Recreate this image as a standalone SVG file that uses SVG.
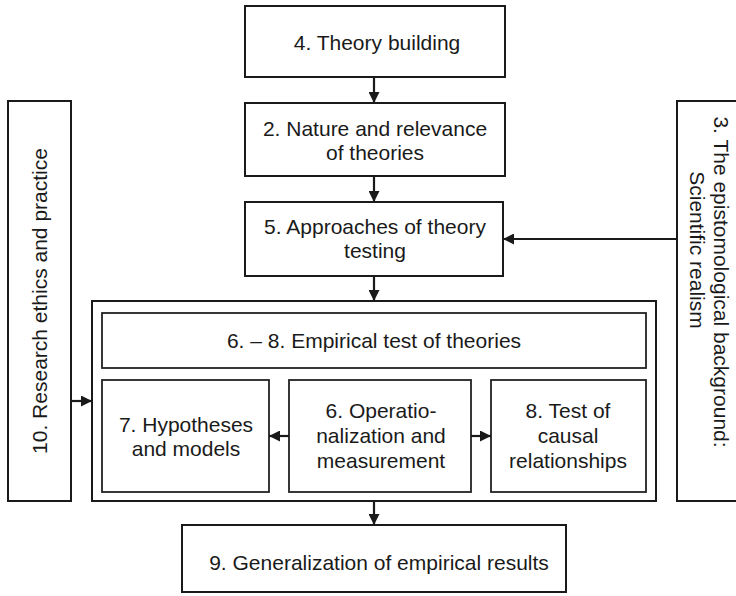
<svg xmlns="http://www.w3.org/2000/svg" width="736" height="596" viewBox="0 0 736 596">
<style>
.box{fill:#fff;stroke:#1a1a1a;stroke-width:2}
.inner{fill:#fff;stroke:#222;stroke-width:1.8}
text{font-family:"Liberation Sans",Arial,sans-serif;font-size:21px;fill:#1a1a1a;text-anchor:middle}
.con{stroke:#1a1a1a;stroke-width:2.2;fill:none}
</style>
<defs>
<marker id="ah" viewBox="0 0 10 10" refX="10" refY="5" markerWidth="5" markerHeight="5" markerUnits="strokeWidth" orient="auto">
<path d="M0,0 L10,5 L0,10 z" fill="#1a1a1a"/>
</marker>
</defs>
<rect width="736" height="596" fill="#fff"/>
<g id="n4"><rect class="box" x="245" y="6" width="260" height="71"/><text x="377" y="50">4. Theory building</text></g>
<g id="n2"><rect class="box" x="245" y="103" width="260" height="73"/><text x="375" y="136">2. Nature and relevance</text><text x="375" y="160">of theories</text></g>
<g id="n5"><rect class="box" x="245" y="202" width="258" height="74"/><text x="375" y="234">5. Approaches of theory</text><text x="375" y="258">testing</text></g>
<g id="n10"><rect class="box" x="8" y="101" width="63" height="400"/><text transform="translate(47,301) rotate(-90)">10. Research ethics and practice</text></g>
<g id="n3"><rect class="box" x="677" y="101" width="64" height="400"/><text transform="translate(714,282) rotate(90)">3. The epistomological background:</text><text transform="translate(690,250) rotate(90)">Scientific realism</text></g>
<g id="n68"><rect class="box" x="92" y="301" width="564" height="200"/></g>
<g id="n68t"><rect class="inner" x="102" y="313" width="544" height="55"/><text x="374" y="348">6. – 8. Empirical test of theories</text></g>
<g id="n7"><rect class="inner" x="102" y="380" width="167" height="112"/><text x="186" y="432">7. Hypotheses</text><text x="186" y="456">and models</text></g>
<g id="n6"><rect class="inner" x="289" y="380" width="182" height="112"/><text x="381" y="418">6. Operatio-</text><text x="381" y="443">nalization and</text><text x="381" y="468">measurement</text></g>
<g id="n8"><rect class="inner" x="491" y="380" width="155" height="112"/><text x="568" y="418">8. Test of</text><text x="568" y="443">causal</text><text x="568" y="468">relationships</text></g>
<g id="n9"><rect class="box" x="182" y="525" width="384" height="67"/><text x="379" y="570">9. Generalization of empirical results</text></g>
<g id="connectors">
<line class="con" x1="374" y1="77" x2="374" y2="103" marker-end="url(#ah)"/>
<line class="con" x1="374" y1="176" x2="374" y2="202" marker-end="url(#ah)"/>
<line class="con" x1="374" y1="276" x2="374" y2="301" marker-end="url(#ah)"/>
<line class="con" x1="374" y1="501" x2="374" y2="525" marker-end="url(#ah)"/>
<line class="con" x1="677" y1="239" x2="503" y2="239" marker-end="url(#ah)"/>
<line class="con" x1="71" y1="401" x2="92" y2="401" marker-end="url(#ah)"/>
<line class="con" x1="289" y1="436" x2="269" y2="436" marker-end="url(#ah)"/>
<line class="con" x1="471" y1="436" x2="491" y2="436" marker-end="url(#ah)"/>
</g>
</svg>
